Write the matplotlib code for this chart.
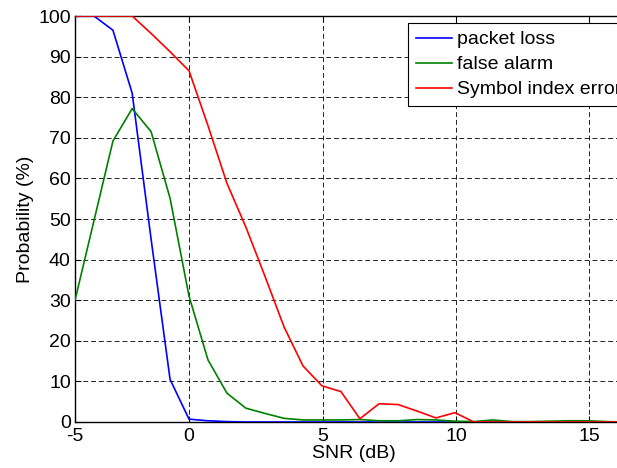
import matplotlib
matplotlib.use("Agg")
import matplotlib.pyplot as plt

plt.rcParams['font.family'] = ['Liberation Sans', 'DejaVu Sans']

# SNR sample points (dB)
snr_db = [-4.27, -3.56, -2.85, -2.13, -1.42, -0.71, 0.00, 0.71, 1.42, 2.13,
          2.85, 3.56, 4.27, 4.98, 5.69, 6.40, 7.12, 7.83, 8.54, 9.25,
          9.96, 10.67, 11.38, 12.10, 12.81, 13.52, 14.23, 14.94, 15.65, 16.37]

# Probabilities (%)
packet_loss = [100, 100, 96.5, 81, 45, 10.5, 0.7, 0.3, 0.1, 0,
               0, 0, 0, 0, 0, 0, 0, 0, 0, 0,
               0, 0, 0, 0, 0, 0, 0, 0, 0, 0]
false_alarm = [30, 49.6, 69.2, 77.2, 71.5, 55.1, 31, 15.3, 7.1, 3.4,
               2.1, 0.9, 0.5, 0.5, 0.5, 0.6, 0.3, 0.3, 0.6, 0.5,
               0.2, 0.1, 0.5, 0.1, 0.1, 0.2, 0.3, 0.3, 0.1, 0]
symbol_index_error = [100, 100, 100, 100, 95.7, 91.2, 86.5, 73, 58.8, 48,
                      35.8, 23.4, 13.8, 8.9, 7.5, 0.8, 4.5, 4.3, 2.7, 1.0,
                      2.3, 0, 0, 0, 0, 0, 0, 0, 0, 0]

series_labels = ['packet loss', 'false alarm', 'Symbol index error']
series_colors = [(0, 0, 1), (0, 0.5, 0), (1, 0, 0)]

x_tick_pos = [-4.27, 0, 5, 10, 15]
x_tick_labels = ['-5', '0', '5', '10', '15']
y_ticks = list(range(0, 101, 10))

fig = plt.figure(figsize=(6.17, 4.68), dpi=100)
ax = fig.add_axes([0.1216, 0.0983, 0.903, 0.8675])

for ys, lab, col in zip([packet_loss, false_alarm, symbol_index_error],
                        series_labels, series_colors):
    ax.plot(snr_db, ys, color=col, linewidth=1.2, label=lab, zorder=3)

ax.set_xlim(-4.27, 16.6)
ax.set_ylim(0, 100)
ax.set_xticks(x_tick_pos)
ax.set_xticklabels(x_tick_labels)
ax.set_yticks(y_ticks)

ax.tick_params(direction='in', length=4, width=0.8, top=True, right=True,
               labelsize=14, colors='black')
ax.tick_params(axis='x', pad=4)
ax.tick_params(axis='y', pad=3)
for s in ax.spines.values():
    s.set_linewidth(1.0)

ax.grid(True, color='black', linestyle=(0, (5.8, 3.6)), linewidth=0.6)

ax.set_xlabel('SNR (dB)', fontsize=14, labelpad=0)
ax.set_ylabel('Probability (%)', fontsize=14, labelpad=3)

leg = ax.legend(loc='upper left', bbox_to_anchor=(408 / 617, 1 - 23 / 468),
                bbox_transform=fig.transFigure, fontsize=14, frameon=True,
                fancybox=False, framealpha=1, edgecolor='black',
                handlelength=1.85, handletextpad=0.25, labelspacing=0.38,
                borderpad=0.4, borderaxespad=0)
leg.get_frame().set_linewidth(0.8)

fig.savefig('out.png', dpi=100)
